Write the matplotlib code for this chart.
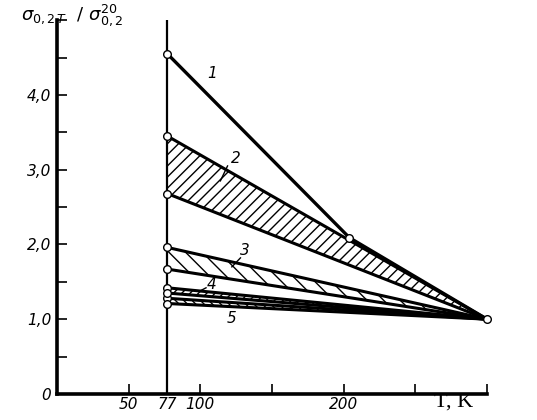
import matplotlib.pyplot as plt

# temperatures, K
T_low = 77
T_mid = 204
T_room = 300

# curve 1 (single line through the 200 K point)
curve1 = [4.55, 2.09, 1.0]

# bands at 77 K: (upper, lower) -> all converge to 1.0 at room temperature
band_top = [3.45, 1.96, 1.42, 1.28]
band_bot = [2.68, 1.67, 1.35, 1.21]
band_hatch = ['///', '\\\\', '////', '\\\\\\\\']

curve_labels = ['1', '2', '3', '4', '5']
label_T = [108, 125, 131, 108, 122]
label_val = [4.28, 3.15, 1.92, 1.47, 1.01]

yticks = [0, 1, 2, 3, 4]
ytick_labels = ['0', '1,0', '2,0', '3,0', '4,0']
xticks = [50, 77, 100, 200]
xtick_labels = ['50', '77', '100', '200']

plt.rcParams['hatch.linewidth'] = 1.0

fig = plt.figure(figsize=(5.37, 4.2), dpi=100)
ax = fig.add_axes([0.106, 0.062, 0.801, 0.89])

ax.set_xlim(0, 300)
ax.set_ylim(0, 5)

# bands
for top, bot, h in zip(band_top, band_bot, band_hatch):
    ax.fill([T_low, T_room, T_low], [top, 1.0, bot], facecolor='white',
            edgecolor='black', hatch=h, linewidth=0)
    ax.plot([T_low, T_room], [top, 1.0], color='black', lw=2.2)
    ax.plot([T_low, T_room], [bot, 1.0], color='black', lw=2.2)

# curve 1
ax.plot([T_low, T_mid, T_room], curve1, color='black', lw=2.4)

# vertical line at 77 K
ax.axvline(T_low, color='black', lw=1.6)

# circles
pts_x = [T_low] * (1 + 2 * len(band_top)) + [T_mid, T_room]
pts_y = [curve1[0]] + band_top + band_bot + [curve1[1], 1.0]
ax.plot(pts_x, pts_y, 'o', ms=5.5, mfc='white', mec='black', mew=1.0,
        clip_on=False, zorder=5)

# curve labels with short leader strokes
for lab, tx, vy in zip(curve_labels, label_T, label_val):
    ax.text(tx, vy, lab, fontsize=11, style='italic', ha='center', va='center')

ax.plot([119, 114], [3.05, 2.85], color='black', lw=1)
ax.plot([128, 122], [1.82, 1.7], color='black', lw=1)
ax.plot([104, 100], [1.42, 1.38], color='black', lw=1)

# axes styling
for s in ['top', 'right']:
    ax.spines[s].set_visible(False)
ax.spines['left'].set_linewidth(2.6)
ax.spines['bottom'].set_linewidth(2.6)

ax.set_yticks(yticks)
ax.set_yticklabels(ytick_labels, fontsize=11, style='italic')
ax.set_yticks([0.5, 1.5, 2.5, 3.5, 4.5, 5.0], minor=True)
ax.tick_params(axis='y', which='both', direction='in', length=7, width=1.2, pad=4)

ax.set_xticks(xticks)
ax.set_xticklabels(xtick_labels, fontsize=11, style='italic')
ax.set_xticks([150, 250, 300], minor=True)
ax.tick_params(axis='x', which='both', direction='in', length=7, width=1.2, pad=2)
for t in ax.xaxis.get_major_ticks():
    if t.get_loc() == 77:
        t.tick1line.set_visible(False)

ax.text(0.04, 0.995, r'$\sigma_{0,2\,T}\ \ /\ \sigma_{0,2}^{20}$', transform=fig.transFigure,
        fontsize=13, ha='left', va='top', style='italic')
ax.text(0.844, 0.02, 'T, K', transform=fig.transFigure, fontsize=16,
        family='Liberation Serif', ha='center', va='bottom')

fig.savefig('out.png', dpi=100)
